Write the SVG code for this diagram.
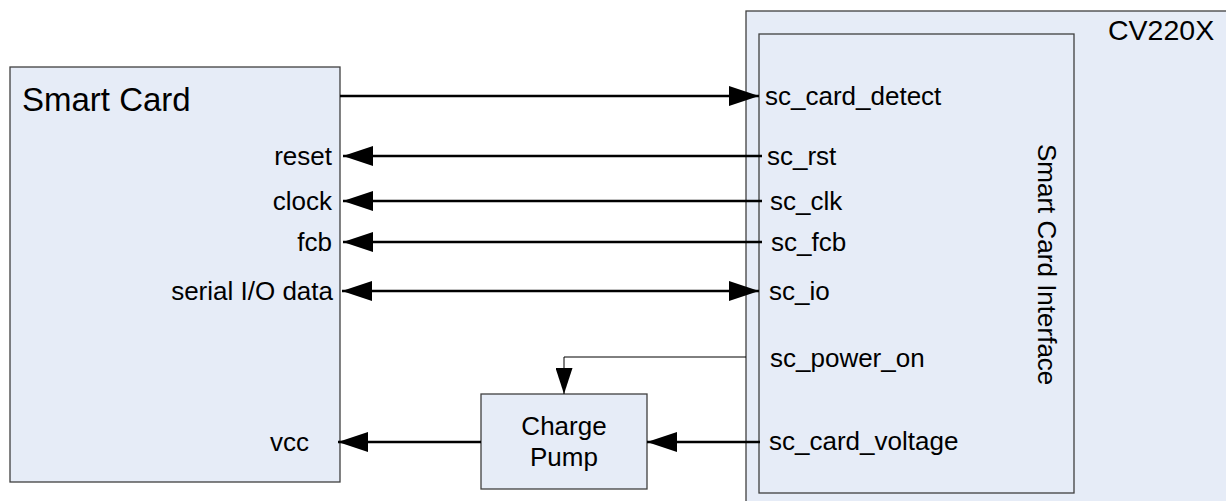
<svg xmlns="http://www.w3.org/2000/svg" width="1226" height="501" viewBox="0 0 1226 501">
<defs>
<style>
.box{fill:#E6ECF7;stroke:#404040;stroke-width:1.3}
.t{font-family:"Liberation Sans",Arial,sans-serif;font-size:26px;fill:#000}
.e{text-anchor:end}
.c{text-anchor:middle}
.w{stroke:#000;stroke-width:2.5;fill:none}
.th{stroke:#000;stroke-width:1;fill:none}
</style>
<marker id="ah" viewBox="0 0 30 20" refX="30" refY="10" markerWidth="30" markerHeight="20" markerUnits="userSpaceOnUse" orient="auto-start-reverse">
<path d="M0,0 L30,10 L0,20 Z" fill="#000"/>
</marker>
<marker id="ahs" viewBox="0 0 26 17" refX="26" refY="8.5" markerWidth="26" markerHeight="17" markerUnits="userSpaceOnUse" orient="auto">
<path d="M0,0 L26,8.5 L0,17 Z" fill="#000"/>
</marker>
</defs>
<g id="cv220x">
<rect class="box" x="746" y="11" width="500" height="500"/>
<text class="t" x="1108" y="40" style="font-size:28.5px">CV220X</text>
</g>
<g id="interface">
<rect class="box" x="759" y="34" width="315" height="459"/>
<text class="t" transform="translate(1038,144) rotate(90)">Smart Card Interface</text>
<text class="t" x="765" y="105">sc_card_detect</text>
<text class="t" x="767" y="165">sc_rst</text>
<text class="t" x="770" y="210">sc_clk</text>
<text class="t" x="771" y="251">sc_fcb</text>
<text class="t" x="769" y="300">sc_io</text>
<text class="t" x="770" y="367">sc_power_on</text>
<text class="t" x="769" y="450">sc_card_voltage</text>
</g>
<g id="smartcard">
<rect class="box" x="10" y="67" width="330" height="415"/>
<text class="t" x="22" y="111" style="font-size:33px">Smart Card</text>
<text class="t e" x="332" y="165">reset</text>
<text class="t e" x="332" y="210">clock</text>
<text class="t e" x="332" y="251">fcb</text>
<text class="t e" x="333" y="300">serial I/O data</text>
<text class="t" x="270" y="451">vcc</text>
</g>
<g id="chargepump">
<rect class="box" x="481" y="394" width="166" height="95"/>
<text class="t c" x="564" y="435">Charge</text>
<text class="t c" x="564" y="466">Pump</text>
</g>
<g id="connectors">
<line class="w" x1="340" y1="96" x2="759" y2="96" marker-end="url(#ah)"/>
<line class="w" x1="762" y1="156" x2="343" y2="156" marker-end="url(#ah)"/>
<line class="w" x1="762" y1="201" x2="343" y2="201" marker-end="url(#ah)"/>
<line class="w" x1="762" y1="242" x2="343" y2="242" marker-end="url(#ah)"/>
<line class="w" x1="342" y1="291" x2="759" y2="291" marker-start="url(#ah)" marker-end="url(#ah)"/>
<polyline class="th" points="746,357 564,357 564,394" marker-end="url(#ahs)"/>
<line class="w" x1="760" y1="442" x2="647" y2="442" marker-end="url(#ah)"/>
<line class="w" x1="481" y1="442" x2="338" y2="442" marker-end="url(#ah)"/>
</g>
</svg>
